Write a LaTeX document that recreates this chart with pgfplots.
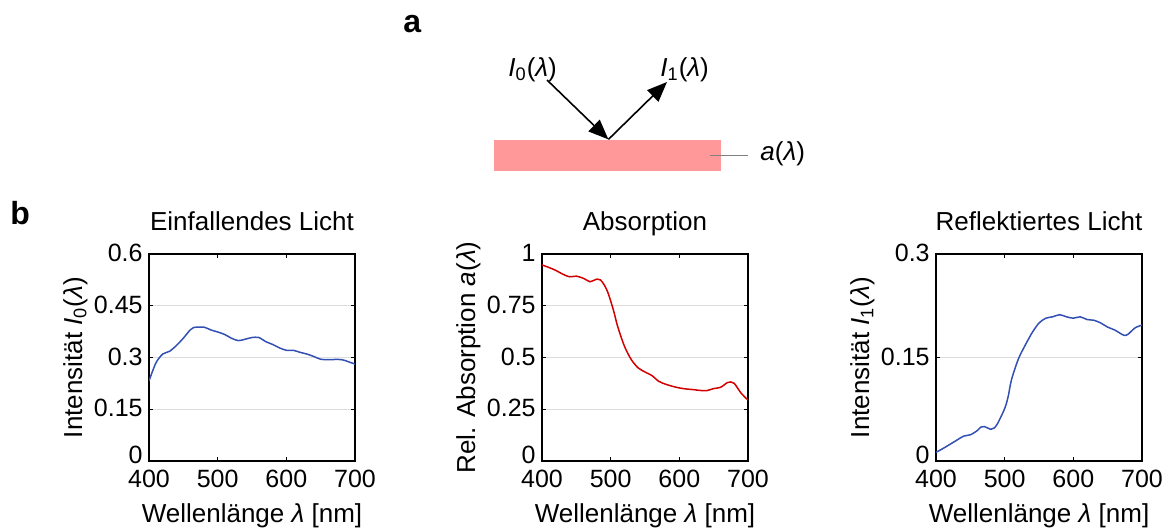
\documentclass[border=0pt]{standalone}
\usepackage{fontspec}
\setmainfont{Liberation Sans}
\usepackage{pgfplots}
\pgfplotsset{compat=1.18}
\usetikzlibrary{arrows.meta}
\definecolor{cblue}{RGB}{50,80,180}
\definecolor{cred}{RGB}{210,0,0}
\definecolor{cpink}{RGB}{255,153,153}
\definecolor{cgrid}{RGB}{222,222,222}
\newcommand{\tfont}{\fontsize{12.5}{14}\selectfont}
\pgfplotsset{
 myax/.style={
  scale only axis, width=103pt, height=103.5pt,
  xmin=400, xmax=700, xtick={400,500,600,700}, xticklabels={400,500,600,700},
  tick align=inside, xtick pos=both, ytick pos=both, major tick length=2pt,
  minor tick num=0,
  axis line style={line width=0.7pt, black},
  every tick/.style={black, line width=0.7pt},
  ymajorgrids, grid style={cgrid, line width=0.6pt},
  every tick label/.append style={font=\tfont},
  xticklabel style={inner sep=0pt, yshift=-4.5pt, font=\tfont},
  yticklabel style={inner sep=0pt, xshift=-3pt, yshift={\ticknum==0 ? 3 : 0.5}, font=\tfont},
  title style={at={(axis description cs:0.5,1)}, anchor=base, yshift=6pt, font=\fontsize{13}{15}\selectfont},
  xlabel style={at={(axis description cs:0.5,0)}, anchor=base, yshift=-30.5pt, font=\fontsize{13}{15}\selectfont},
  ylabel style={at={(axis description cs:-0.325,0.5)}, anchor=base, font=\fontsize{13}{15}\selectfont},
  xlabel={Wellenlänge \textit{λ} [nm]},
  /pgf/number format/assume math mode=true,
 }
}
\begin{document}
\begin{tikzpicture}
\path[use as bounding box] (0,0) rectangle (583pt,263.5pt);

\begin{axis}[myax, at={(74.5pt,33pt)}, anchor=south west,
  ymin=0, ymax=0.6, ytick={0,0.15,0.3,0.45,0.6}, yticklabels={0,0.15,0.3,0.45,0.6},
  title={Einfallendes Licht},
  ylabel={Intensität \textit{I}\textsubscript{0}(\textit{λ})}]
\addplot[cblue, line width=0.75pt, smooth] coordinates {
(400,0.232) (410,0.284) (420,0.310) (430,0.318) (440,0.335) (450,0.356)
(460,0.380) (465,0.387) (480,0.388) (490,0.380) (500,0.374) (510,0.367)
(520,0.356) (530,0.349) (540,0.353) (550,0.358) (560,0.358) (570,0.346)
(580,0.338) (590,0.328) (600,0.321) (610,0.321) (620,0.315) (630,0.310)
(640,0.303) (650,0.295) (660,0.294) (680,0.294) (690,0.288) (700,0.281)};
\end{axis}

\begin{axis}[myax, at={(271pt,33pt)}, anchor=south west,
  ymin=0, ymax=1, ytick={0,0.25,0.5,0.75,1}, yticklabels={0,0.25,0.5,0.75,1},
  title={Absorption},
  ylabel={Rel. Absorption \textit{a}(\textit{λ})}]
\addplot[cred, line width=0.75pt, smooth] coordinates {
(400,0.947) (410,0.935) (420,0.921) (430,0.903) (440,0.890) (450,0.893)
(460,0.883) (470,0.866) (475,0.872) (480,0.879) (485,0.875) (490,0.854)
(495,0.822) (500,0.773) (505,0.717) (510,0.652) (520,0.555) (530,0.490)
(540,0.450) (550,0.430) (560,0.413) (570,0.385) (580,0.371) (590,0.361)
(600,0.353) (610,0.348) (620,0.345) (630,0.341) (640,0.340) (650,0.350)
(660,0.356) (670,0.379) (675,0.382) (680,0.375) (690,0.328) (700,0.294)};
\end{axis}

\begin{axis}[myax, at={(468pt,33pt)}, anchor=south west,
  ymin=0, ymax=0.3, ytick={0,0.15,0.3}, yticklabels={0,0.15,0.3},
  title={Reflektiertes Licht},
  ylabel={Intensität \textit{I}\textsubscript{1}(\textit{λ})}]
\addplot[cblue, line width=0.75pt, smooth] coordinates {
(400,0.0126) (410,0.018) (420,0.024) (430,0.030) (440,0.036) (450,0.038)
(460,0.044) (465,0.049) (470,0.050) (480,0.046) (485,0.048) (490,0.055)
(500,0.076) (505,0.093) (510,0.118) (520,0.148) (530,0.168) (540,0.186)
(550,0.200) (560,0.207) (570,0.209) (580,0.212) (590,0.209) (600,0.207)
(610,0.209) (620,0.205) (630,0.204) (640,0.200) (650,0.194) (660,0.190)
(670,0.184) (675,0.182) (680,0.184) (690,0.193) (700,0.197)};
\end{axis}

% schematic
\fill[cpink] (247pt,178pt) rectangle (360.5pt,193.5pt);
\draw[line width=0.8pt, -{Triangle[length=10pt,width=8pt]}] (273.5pt,223.5pt) -- (304.2pt,193.8pt);
\draw[line width=0.8pt, -{Triangle[length=10pt,width=8pt]}] (304.2pt,193.8pt) -- (333.5pt,222.5pt);
\draw[gray, line width=0.5pt] (355pt,186pt) -- (374pt,186pt);
\node[anchor=base west, inner sep=0pt, font=\fontsize{13}{15}\selectfont] at (254pt,225.5pt) {\textit{I}\textsubscript{0}(\textit{λ})};
\node[anchor=base west, inner sep=0pt, font=\fontsize{13}{15}\selectfont] at (330pt,225.5pt) {\textit{I}\textsubscript{1}(\textit{λ})};
\node[anchor=base west, inner sep=0pt, font=\fontsize{13}{15}\selectfont] at (380pt,183.2pt) {\textit{a}(\textit{λ})};
\node[anchor=base west, inner sep=0pt, font=\bfseries\fontsize{16}{18}\selectfont] at (201.5pt,247.5pt) {a};
\node[anchor=base west, inner sep=0pt, font=\bfseries\fontsize{16}{18}\selectfont] at (5pt,151.5pt) {b};
\end{tikzpicture}
\end{document}
